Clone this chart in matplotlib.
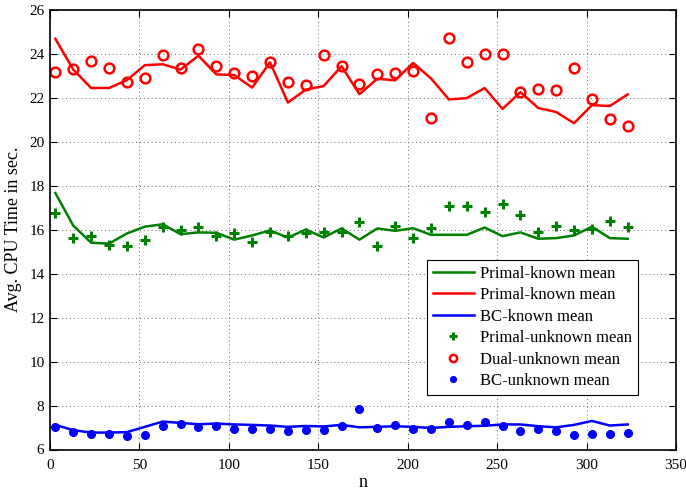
import matplotlib
matplotlib.use("Agg")
import matplotlib.pyplot as plt
import numpy as np

plt.rcParams['font.family'] = ['Liberation Serif', 'DejaVu Serif']
plt.rcParams['mathtext.fontset'] = 'stix'

n = np.arange(3, 324, 10)

primal_known_green = [17.67, 16.19, 15.41, 15.37, 15.83, 16.14, 16.25, 15.80, 15.88, 15.86,
                      15.55, 15.74, 15.97, 15.64, 16.01, 15.65, 16.06, 15.55, 16.06, 15.95,
                      16.07, 15.77, 15.77, 15.77, 16.10, 15.71, 15.88, 15.59, 15.62, 15.74,
                      16.14, 15.62, 15.59]
primal_known_red = [24.69, 23.29, 22.45, 22.45, 22.81, 23.49, 23.53, 23.29, 23.92, 23.07,
                    23.04, 22.47, 23.62, 21.79, 22.38, 22.54, 23.44, 22.17, 22.87, 22.80,
                    23.59, 22.89, 21.93, 21.99, 22.45, 21.50, 22.26, 21.54, 21.36, 20.85,
                    21.67, 21.63, 22.16]
bc_known = [7.12, 6.88, 6.77, 6.77, 6.79, 7.03, 7.27, 7.21, 7.15, 7.18,
            7.14, 7.12, 7.09, 7.03, 7.07, 7.05, 7.12, 7.01, 7.03, 7.06,
            7.03, 6.98, 7.03, 7.06, 7.08, 7.14, 7.14, 7.06, 7.01, 7.12,
            7.30, 7.09, 7.14]
primal_unknown = [16.74, 15.61, 15.71, 15.32, 15.28, 15.55, 16.14, 15.98, 16.14, 15.73,
                  15.86, 15.43, 15.89, 15.71, 15.83, 15.91, 15.89, 16.36, 15.26, 16.18,
                  15.62, 16.06, 17.10, 17.10, 16.83, 17.15, 16.68, 15.92, 16.18, 15.98,
                  16.03, 16.42, 16.14]
dual_unknown = [23.19, 23.32, 23.68, 23.34, 22.72, 22.90, 23.94, 23.37, 24.21, 23.43,
                23.14, 22.98, 23.64, 22.71, 22.57, 23.94, 23.46, 22.62, 23.08, 23.14,
                23.23, 21.09, 24.73, 23.64, 24.01, 24.01, 22.27, 22.42, 22.35, 23.35,
                21.94, 21.03, 20.71]
bc_unknown = [7.01, 6.79, 6.70, 6.71, 6.62, 6.68, 7.07, 7.15, 7.01, 7.05,
              6.92, 6.94, 6.94, 6.86, 6.88, 6.88, 7.05, 7.83, 6.97, 7.10,
              6.95, 6.92, 7.23, 7.12, 7.26, 7.05, 6.83, 6.92, 6.82, 6.67,
              6.71, 6.71, 6.74]

green = '#008000'
red = '#ff0000'
blue = '#0000ff'

fig = plt.figure(figsize=(6.86, 4.92), dpi=100)
ax = fig.add_axes([50 / 686, 1 - 449.5 / 492, 626 / 686, 439.5 / 492])

ax.plot(n, primal_known_green, color=green, lw=1.8, label='Primal-known mean')
ax.plot(n, primal_known_red, color=red, lw=1.8, label='Primal-known mean')
ax.plot(n, bc_known, color=blue, lw=1.8, label='BC-known mean')
ax.plot(n, primal_unknown, ls='none', marker='+', ms=7, mew=2.2, color=green,
        label='Primal-unknown mean')
ax.plot(n, dual_unknown, ls='none', marker='o', ms=7, mew=1.8, mfc='none', mec=red,
        label='Dual-unknown mean')
ax.plot(n, bc_unknown, ls='none', marker='o', ms=5.5, color=blue, label='BC-unknown mean')

ax.set_xlim(0, 350)
ax.set_ylim(6, 26)
ax.set_xticks(np.arange(0, 351, 50))
ax.set_yticks(np.arange(6, 27, 2))
ax.grid(True, ls=(0, (1, 3)), color='#666666', lw=0.7)
ax.tick_params(direction='in', top=True, right=True, labelsize=11, length=5, width=0.8)
ax.tick_params(axis='x', pad=7)
ax.tick_params(axis='y', pad=4)
for s in ax.spines.values():
    s.set_linewidth(1.2)

ax.set_xlabel('n', fontsize=13, labelpad=1)
ax.set_ylabel('Avg. CPU Time in sec.', fontsize=13, labelpad=5)

leg = ax.legend(loc='lower right', bbox_to_anchor=(588 / 626, (449.5 - 395) / 439.5),
                fontsize=12, frameon=True, fancybox=False, edgecolor='black',
                handlelength=2.5, borderpad=0.35, labelspacing=0.33, handletextpad=0.35,
                borderaxespad=0, markerscale=0.75, framealpha=1)
leg.get_frame().set_linewidth(0.8)

fig.savefig('out.png', dpi=100)
